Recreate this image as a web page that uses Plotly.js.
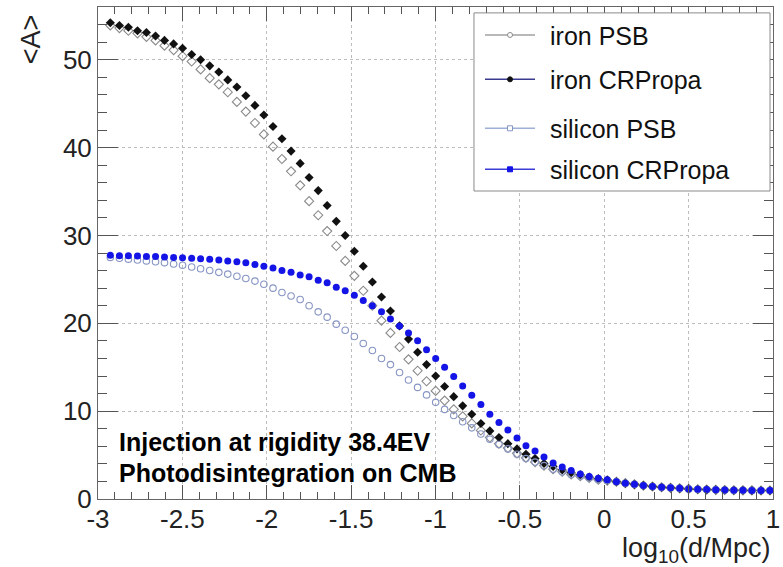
<!DOCTYPE html>
<html>
<head>
<meta charset="utf-8">
<script src="https://cdn.plot.ly/plotly-3.0.1.min.js"></script>
<style>html,body{margin:0;padding:0;background:#fff;}#chart{width:783px;height:567px;}</style>
</head>
<body>
<div id="chart"></div>
<script>
// log10(d/Mpc) sample positions
const logD = [-2.927,-2.873,-2.820,-2.766,-2.713,-2.659,-2.606,-2.552,-2.499,-2.445,
  -2.392,-2.338,-2.284,-2.231,-2.177,-2.124,-2.070,-2.017,-1.963,-1.910,
  -1.856,-1.802,-1.749,-1.695,-1.642,-1.588,-1.535,-1.481,-1.428,-1.374,
  -1.320,-1.267,-1.213,-1.160,-1.106,-1.053,-0.999,-0.946,-0.892,-0.839,
  -0.785,-0.731,-0.678,-0.624,-0.571,-0.517,-0.464,-0.410,-0.357,-0.303,
  -0.249,-0.196,-0.142,-0.089,-0.035,0.018,0.072,0.125,0.179,0.232,
  0.286,0.340,0.393,0.447,0.500,0.554,0.607,0.661,0.714,0.768,
  0.822,0.875,0.929,0.982];

const ironPSB = [53.9,53.6,53.3,53.0,52.6,52.2,51.6,51.1,50.4,49.8,
  48.9,47.9,47.2,46.3,45.2,44.1,42.8,41.5,40.1,38.7,
  37.3,35.7,33.9,32.3,30.5,28.8,27.1,25.4,23.7,22.0,
  20.3,18.9,17.3,15.9,14.6,13.4,12.3,11.2,10.2,9.4,
  8.6,7.8,7.0,6.3,5.8,5.2,4.7,4.2,3.8,3.4,
  3.1,2.8,2.6,2.4,2.2,2.1,1.96,1.8,1.67,1.53,
  1.42,1.34,1.27,1.21,1.15,1.11,1.07,1.04,1.02,1.0,
  0.99,0.98,0.97,0.97];

const ironCRPropa = [54.2,53.9,53.7,53.3,53.1,52.7,52.2,51.8,51.3,50.6,
  50.0,49.3,48.6,47.7,46.9,45.9,44.8,43.7,42.4,41.0,
  39.6,38.2,36.6,35.1,33.4,31.6,30.0,28.2,26.5,24.7,
  23.0,21.4,19.7,18.2,16.7,15.3,14.0,12.8,11.65,10.6,
  9.65,8.6,7.75,7.0,6.3,5.7,5.1,4.6,4.05,3.7,
  3.3,3.0,2.75,2.5,2.3,2.15,1.97,1.8,1.67,1.53,
  1.42,1.34,1.27,1.21,1.15,1.11,1.07,1.04,1.02,1.0,
  0.99,0.98,0.97,0.97];

const siliconPSB = [27.5,27.4,27.3,27.2,27.1,27.0,26.9,26.75,26.6,26.4,
  26.2,26.0,25.8,25.6,25.35,25.1,24.8,24.45,24.0,23.5,
  23.1,22.7,22.0,21.3,20.7,19.9,19.2,18.5,17.7,16.9,
  16.0,15.3,14.4,13.55,12.7,11.85,11.0,10.2,9.5,8.8,
  8.1,7.4,6.8,6.2,5.7,5.1,4.6,4.2,3.8,3.4,
  3.1,2.8,2.6,2.4,2.2,2.1,1.96,1.8,1.67,1.53,
  1.42,1.34,1.27,1.21,1.15,1.11,1.07,1.04,1.02,1.0,
  0.99,0.98,0.97,0.97];

const siliconCRPropa = [27.75,27.7,27.7,27.65,27.6,27.6,27.55,27.5,27.45,27.4,
  27.35,27.3,27.2,27.1,27.0,26.9,26.7,26.5,26.3,26.0,
  25.8,25.5,25.3,24.9,24.6,24.1,23.7,23.2,22.6,22.0,
  21.3,20.5,19.7,18.9,18.0,17.0,16.0,15.0,13.95,12.85,
  11.8,10.75,9.65,8.7,7.85,6.95,6.05,5.45,4.78,4.1,
  3.65,3.25,2.85,2.55,2.35,2.18,1.97,1.8,1.67,1.53,
  1.42,1.34,1.27,1.21,1.15,1.11,1.07,1.04,1.02,1.0,
  0.99,0.98,0.97,0.97];

const seriesNames = ['iron PSB','iron CRPropa','silicon PSB','silicon CRPropa'];
const xTickVals = [-3,-2.5,-2,-1.5,-1,-0.5,0,0.5,1];
const xTickText = ['-3','-2.5','-2','-1.5','-1','-0.5','0','0.5','1'];
const yTickVals = [0,10,20,30,40,50];
const yTickText = ['0','10','20','30','40','50'];
const noteLines = ['Injection at rigidity 38.4EV','Photodisintegration on CMB'];

const FONT = 'Arial, "Liberation Sans", sans-serif';

const traces = [
  {x: logD, y: ironPSB, name: seriesNames[0], type:'scatter', mode:'markers',
   marker:{symbol:'diamond-open', size:7, color:'#8a8a8a', line:{width:1.1, color:'#8a8a8a'}}},
  {x: logD, y: ironCRPropa, name: seriesNames[1], type:'scatter', mode:'markers',
   marker:{symbol:'diamond', size:7, color:'#111111'}},
  {x: logD, y: siliconPSB, name: seriesNames[2], type:'scatter', mode:'markers',
   marker:{symbol:'circle-open', size:6.5, color:'#8795c4', line:{width:1.1, color:'#8795c4'}}},
  {x: logD, y: siliconCRPropa, name: seriesNames[3], type:'scatter', mode:'markers',
   marker:{symbol:'circle', size:7, color:'#1414e6'}}
];

// custom ROOT-like legend
const legendY = [0.9431, 0.8530, 0.7535, 0.6701];
const legendLineColor = ['#a0a0a0','#3a3a90','#9fb0d8','#3c3cd8'];
const legendMarkerColor = ['#8a8a8a','#111111','#8795c4','#1414e6'];
const shapes = [
  {type:'rect', xref:'paper', yref:'paper', x0:0.557, x1:0.9956, y0:0.626, y1:0.988,
   fillcolor:'#ffffff', line:{color:'#8a8a8a', width:1}, layer:'above'}
];
const annotations = [];
for (let i = 0; i < 4; i++) {
  shapes.push({type:'line', xref:'paper', yref:'paper', x0:0.5733, x1:0.6474,
    y0:legendY[i], y1:legendY[i], line:{color:legendLineColor[i], width:1.5}, layer:'above'});
  const filled = (i % 2 === 1);
  shapes.push({type:(i < 2 ? 'circle' : 'rect'), xref:'paper', yref:'paper',
    xsizemode:'pixel', ysizemode:'pixel', xanchor:0.6104, yanchor:legendY[i],
    x0:-2.5, x1:2.5, y0:-2.5, y1:2.5,
    fillcolor: filled ? legendMarkerColor[i] : '#ffffff',
    line:{color:legendMarkerColor[i], width:1}, layer:'above'});
  annotations.push({xref:'paper', yref:'paper', x:0.6667, y:legendY[i]-0.002,
    xanchor:'left', yanchor:'middle', showarrow:false, text:seriesNames[i],
    font:{family:FONT, size:25, color:'#111'}});
}
annotations.push({xref:'paper', yref:'paper', x:0.028, y:0.1159, xanchor:'left', yanchor:'middle',
  showarrow:false, text:'<b>'+noteLines[0]+'</b>', font:{family:FONT, size:25, color:'#000'}});
annotations.push({xref:'paper', yref:'paper', x:0.028, y:0.0528, xanchor:'left', yanchor:'middle',
  showarrow:false, text:'<b>'+noteLines[1]+'</b>', font:{family:FONT, size:25, color:'#000'}});
// axis titles
annotations.push({xref:'paper', yref:'paper', x:1.0, y:-0.104, xanchor:'right', yanchor:'middle',
  showarrow:false, text:'log<sub>10</sub>(d/Mpc)', font:{family:FONT, size:27, color:'#222'}});
annotations.push({xref:'paper', yref:'paper', x:-0.099, y:0.935, xanchor:'center', yanchor:'middle',
  showarrow:false, textangle:-90, text:'&lt;A&gt;', font:{family:FONT, size:27, color:'#222'}});

const layout = {
  width:783, height:567,
  margin:{l:98, r:10, t:7, b:68, pad:0},
  paper_bgcolor:'#ffffff', plot_bgcolor:'#ffffff',
  showlegend:false,
  font:{family:FONT, color:'#222'},
  xaxis:{
    range:[-3,1], tickmode:'array', tickvals:xTickVals, ticktext:xTickText,
    ticks:'inside', ticklen:14, tickwidth:1, tickcolor:'#555',
    showline:true, linecolor:'#666', linewidth:1, mirror:'ticks',
    showgrid:true, gridcolor:'#bdbdbd', griddash:'dot', gridwidth:1, zeroline:false,
    tickfont:{family:FONT, size:26, color:'#222'}, ticklabelstandoff:-3,
    minor:{tickmode:'linear', tick0:0, dtick:0.1, ticks:'inside', ticklen:7, tickwidth:1, tickcolor:'#555', showgrid:false}
  },
  yaxis:{
    range:[0,56], tickmode:'array', tickvals:yTickVals, ticktext:yTickText,
    ticks:'inside', ticklen:20, tickwidth:1, tickcolor:'#555',
    showline:true, linecolor:'#666', linewidth:1, mirror:'ticks',
    showgrid:true, gridcolor:'#bdbdbd', griddash:'dot', gridwidth:1, zeroline:false,
    tickfont:{family:FONT, size:26, color:'#222'}, ticklabelstandoff:0,
    minor:{tickmode:'linear', tick0:0, dtick:2, ticks:'inside', ticklen:9, tickwidth:1, tickcolor:'#555', showgrid:false}
  },
  shapes: shapes,
  annotations: annotations
};

Plotly.newPlot('chart', traces, layout, {displayModeBar:false, staticPlot:true});
</script>
</body>
</html>
